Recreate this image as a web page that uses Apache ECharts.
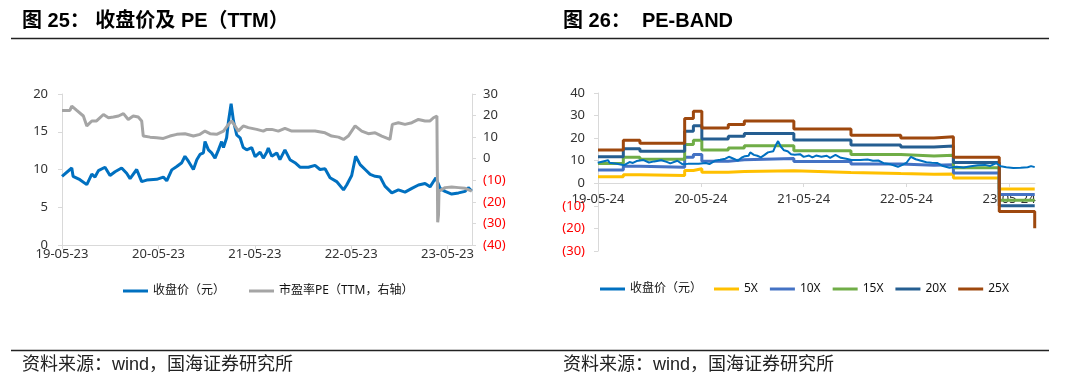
<!DOCTYPE html>
<html><head><meta charset="utf-8">
<script src="https://cdn.jsdelivr.net/npm/echarts@6/dist/echarts.min.js"></script>
<style>html,body{margin:0;padding:0;background:#fff}#c{width:1080px;height:391px}</style>
</head><body><div id="c"></div>
<script>
// ---- Data ----
const priceDates = ['2019-05-23','2019-05-28','2019-06-29','2019-07-04','2019-07-30','2019-08-25','2019-09-13','2019-09-25','2019-10-08','2019-11-02','2019-11-21','2019-12-10','2020-01-04','2020-01-23','2020-02-05','2020-03-01','2020-03-20','2020-04-08','2020-05-16','2020-06-10','2020-06-23','2020-07-12','2020-07-31','2020-08-19','2020-08-31','2020-09-13','2020-10-02','2020-10-15','2020-10-27','2020-11-09','2020-11-15','2020-11-28','2020-12-10','2020-12-23','2021-01-05','2021-01-17','2021-01-24','2021-02-05','2021-02-12','2021-02-22','2021-03-03','2021-03-15','2021-03-28','2021-04-09','2021-04-22','2021-05-11','2021-05-24','2021-06-12','2021-06-24','2021-07-07','2021-07-13','2021-07-26','2021-08-14','2021-08-26','2021-09-14','2021-10-03','2021-10-22','2021-11-10','2021-12-12','2022-01-06','2022-01-25','2022-02-13','2022-03-04','2022-03-29','2022-04-24','2022-05-06','2022-05-25','2022-06-09','2022-06-26','2022-07-15','2022-08-03','2022-08-22','2022-09-10','2022-09-28','2022-10-24','2022-11-18','2022-12-13','2023-01-08','2023-02-02','2023-02-27','2023-03-18','2023-04-09','2023-04-25','2023-05-14','2023-06-08','2023-07-04','2023-07-29','2023-08-10','2023-08-23'];
const priceValues = [9.1,9.0,10.2,9.1,8.65,8.0,9.4,9.0,9.85,10.3,9.2,9.7,10.2,9.5,8.8,10.0,8.4,8.6,8.7,9.0,8.5,9.95,10.4,10.9,11.75,11.1,10.0,11.3,12.0,12.2,13.7,12.6,12.2,11.5,12.6,13.7,12.9,14.2,16.4,18.7,16.4,14.6,14.2,12.9,12.6,12.9,11.7,12.3,11.5,12.3,12.85,11.75,12.2,11.3,12.6,11.3,10.9,10.3,10.3,10.55,10.0,10.1,8.9,8.4,7.3,7.95,9.2,11.75,10.65,10.0,9.35,9.1,9.0,7.8,6.9,7.3,7.0,7.5,7.95,8.15,7.7,8.9,7.5,7.1,6.75,6.9,7.1,7.6,7.15];

const peDates = ['2019-05-23','2019-06-22','2019-06-29','2019-07-18','2019-08-12','2019-08-25','2019-09-13','2019-10-01','2019-10-27','2019-11-15','2019-12-04','2019-12-23','2020-01-11','2020-01-29','2020-02-17','2020-03-07','2020-03-20','2020-03-26','2020-04-21','2020-05-16','2020-06-10','2020-07-05','2020-07-31','2020-08-31','2020-10-02','2020-10-27','2020-11-15','2020-12-04','2020-12-29','2021-01-24','2021-02-12','2021-02-24','2021-03-09','2021-03-21','2021-04-09','2021-04-28','2021-05-30','2021-06-24','2021-07-07','2021-07-26','2021-08-20','2021-09-14','2021-10-10','2021-11-29','2022-01-06','2022-02-13','2022-03-10','2022-04-05','2022-04-24','2022-05-12','2022-06-07','2022-07-02','2022-07-27','2022-08-22','2022-09-16','2022-10-17','2022-10-24','2022-10-26','2022-11-18','2022-12-13','2023-01-08','2023-02-02','2023-02-27','2023-03-18','2023-03-31','2023-04-13','2023-04-16','2023-04-19','2023-04-21','2023-05-14','2023-06-08','2023-07-04','2023-07-29','2023-08-23'];
const peValues = [22.4,22.4,24.4,22.4,19.8,15.2,17.5,17.5,20.5,19.0,19.3,19.8,20.9,18.2,19.8,19.3,17.5,10.5,10.0,9.7,9.4,10.5,11.3,11.6,10.5,11.3,12.8,11.6,11.3,12.8,15.9,17.5,15.2,12.8,15.2,14.4,13.6,12.8,13.6,13.6,12.8,14.1,12.8,12.8,12.8,12.0,10.5,10.0,8.95,10.5,15.2,12.8,11.6,12.0,10.5,8.95,8.5,15.9,16.7,15.9,16.7,18.2,17.5,17.5,19.0,19.8,-29.5,-26,-15,-13.4,-13.1,-13.4,-13.7,-15];

const bandDates = ['2019-05-24','2019-08-22','2019-10-20','2020-03-27','2020-04-27','2020-05-27','2020-08-29','2020-10-25','2021-04-19','2021-11-08','2022-05-04','2022-08-30','2022-11-07','2023-04-19','2023-08-23'];
const band5  = [2.9,3.8,3.5,5.7,6.4,4.9,5.2,5.5,4.8,4.3,4.0,4.1,2.3,-2.5,-2.5];
const band10 = [5.9,7.6,7.1,11.5,12.8,9.8,10.4,11.0,9.6,8.5,8.0,8.2,4.6,-5.0,-5.0];
const band15 = [8.8,11.5,10.6,17.2,19.1,14.7,15.6,16.6,14.4,12.8,12.1,12.4,6.9,-7.5,-7.5];
const band20 = [11.8,15.3,14.2,23.0,25.5,19.6,20.8,22.1,19.2,17.0,16.1,16.5,9.2,-10.0,-10.0];
const band25 = [14.7,19.1,17.7,28.7,31.9,24.5,26.0,27.6,24.0,21.3,20.1,20.6,11.5,-12.5,-19.9];

const leftTickDates  = ['2019-05-23','2020-05-23','2021-05-23','2022-05-23','2023-05-23'];
const rightTickDates = ['2019-05-24','2020-05-24','2021-05-24','2022-05-24','2023-05-24'];

// ---- helpers ----
const P = s => echarts.time.parse(s).getTime();
const pairs = (d, v) => d.map((x, i) => [P(x), v[i]]);
const fmtDate = v => echarts.time.format(v, '{yy}-{MM}-{dd}', false);
const negFmt = v => v < 0 ? '(' + (-v) + ')' : String(v);
const negColor = v => (v < 0 ? '#FF0000' : '#333333');
const FONT = '"Noto Sans","Noto Sans CJK SC",sans-serif';
const TFONT = '"Liberation Sans","Noto Sans CJK SC",sans-serif';
const AX = '#D9D9D9';

function xAxisCfg(grid, ticks, min, max, margin, offset) {
  const cv = ticks.map(P);
  return {
    type: 'value', gridIndex: grid, min: P(min), max: P(max), scale: true, offset: offset,
    axisLine: { show: true, onZero: false, lineStyle: { color: AX, width: 1 } },
    axisTick: { show: true, customValues: cv, length: 4, lineStyle: { color: AX } },
    axisLabel: { customValues: cv, formatter: fmtDate, color: '#333', fontSize: 13, fontFamily: FONT, margin: margin },
    splitLine: { show: false }
  };
}
function yAxisCfg(grid, pos, min, max, interval, margin) {
  return {
    type: 'value', gridIndex: grid, position: pos, min, max, interval,
    axisLine: { show: true, onZero: false, lineStyle: { color: AX } },
    axisTick: { show: true, length: 4, lineStyle: { color: AX } },
    axisLabel: { formatter: negFmt, color: negColor, fontSize: 13, fontFamily: FONT, margin: margin },
    splitLine: { show: false }
  };
}
function lineS(name, xi, yi, data, color, width, step) {
  return {
    type: 'line', name, xAxisIndex: xi, yAxisIndex: yi, data,
    showSymbol: false, symbol: 'none', step: step || false,
    lineStyle: { color, width }, itemStyle: { color }, emphasis: { disabled: true }
  };
}

// right grid: top 93, height 158, y range -30..40 -> x axis sits on the zero line
const RG = { top: 93, height: 158, min: -30, max: 40 };
const zeroOffset = -Math.round(RG.height * (0 - RG.min) / (RG.max - RG.min));

const chart = echarts.init(document.getElementById('c'), null, { renderer: 'canvas' });
chart.setOption({
  animation: false,
  backgroundColor: '#fff',
  grid: [
    { left: 62, top: 94, width: 410, height: 151 },
    { left: 598, top: RG.top, width: 437, height: RG.height }
  ],
  xAxis: [
    xAxisCfg(0, leftTickDates, '2019-05-23', '2023-08-24', 3, 0),
    xAxisCfg(1, rightTickDates, '2019-05-24', '2023-08-24', 10, zeroOffset)
  ],
  yAxis: [
    yAxisCfg(0, 'left', 0, 20, 5, 14),
    yAxisCfg(0, 'right', -40, 30, 10, 11),
    yAxisCfg(1, 'left', RG.min, RG.max, 10, 13)
  ],
  legend: [
    { data: ['收盘价（元）', '市盈率PE（TTM，右轴）'], left: 123, top: 285, padding: 0, icon: 'rect', itemWidth: 25, itemHeight: 3, itemGap: 24,
      textStyle: { fontSize: 12, color: '#111', fontFamily: FONT }, selectedMode: false },
    { data: ['收盘价（元）', '5X', '10X', '15X', '20X', '25X'], left: 600, top: 283, padding: 0, icon: 'rect', itemWidth: 25, itemHeight: 3, itemGap: 12,
      textStyle: { fontSize: 12, color: '#111', fontFamily: FONT }, selectedMode: false }
  ],
  series: [
    lineS('收盘价（元）', 0, 0, pairs(priceDates, priceValues), '#0070C0', 3),
    lineS('市盈率PE（TTM，右轴）', 0, 1, pairs(peDates, peValues), '#A5A5A5', 3),
    lineS('5X', 1, 2, pairs(bandDates, band5), '#FFC000', 3, 'end'),
    lineS('10X', 1, 2, pairs(bandDates, band10), '#4472C4', 3, 'end'),
    lineS('15X', 1, 2, pairs(bandDates, band15), '#70AD47', 3, 'end'),
    lineS('20X', 1, 2, pairs(bandDates, band20), '#255E91', 3, 'end'),
    lineS('25X', 1, 2, pairs(bandDates, band25), '#9E480E', 3, 'end'),
    lineS('收盘价（元）', 1, 2, pairs(priceDates, priceValues), '#0070C0', 2)
  ],
  graphic: [
    { type: 'text', left: 22, top: 11, style: { text: '图 25： 收盘价及 PE（TTM）', font: 'bold 20px ' + TFONT, fill: '#000' } },
    { type: 'text', left: 563, top: 11, style: { text: '图 26：  PE-BAND', font: 'bold 20px ' + TFONT, fill: '#000' } },
    { type: 'line', shape: { x1: 11, y1: 38.5, x2: 1049, y2: 38.5 }, style: { stroke: '#222', lineWidth: 1.5 } },
    { type: 'line', shape: { x1: 11, y1: 350.5, x2: 1049, y2: 350.5 }, style: { stroke: '#222', lineWidth: 1.5 } },
    { type: 'text', left: 22, top: 356, style: { text: '资料来源：wind，国海证券研究所', font: '18px ' + TFONT, fill: '#222' } },
    { type: 'text', left: 563, top: 356, style: { text: '资料来源：wind，国海证券研究所', font: '18px ' + TFONT, fill: '#222' } }
  ]
});
</script></body></html>
